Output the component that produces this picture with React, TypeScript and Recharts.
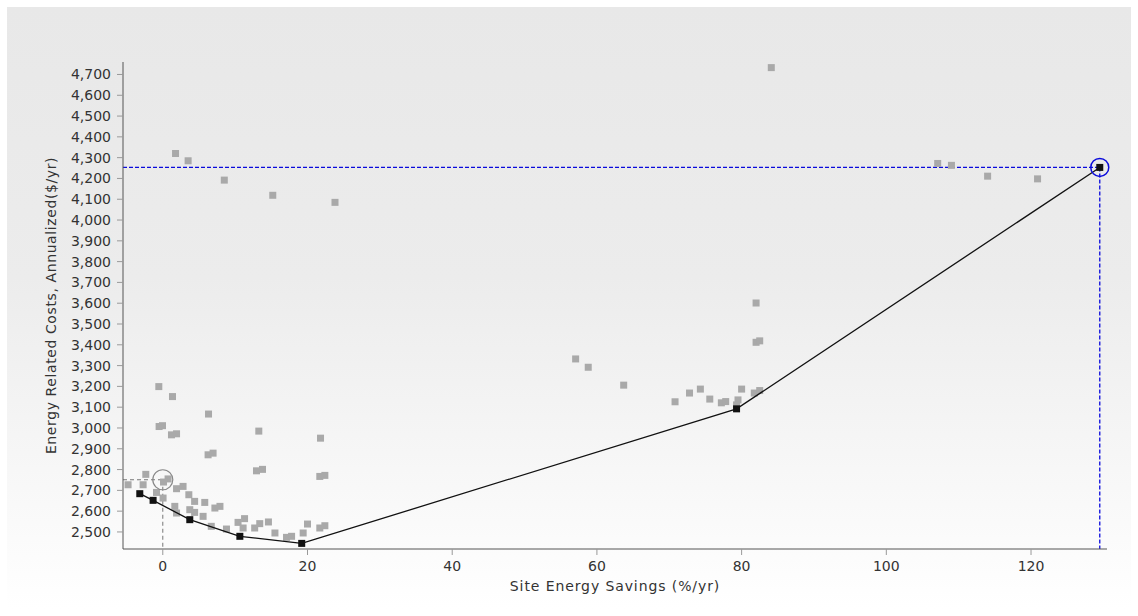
import { ScatterChart, Scatter, XAxis, YAxis, ReferenceLine, ReferenceDot } from 'recharts';

// all design options evaluated (gray squares)
const designPoints = [
  { x: -0.55, y: 3199 }, { x: 1.34, y: 3151 }, { x: 6.32, y: 3067 }, { x: -0.51, y: 3007 },
  { x: -0.04, y: 3011 }, { x: 1.2, y: 2967 }, { x: 1.9, y: 2972 }, { x: 13.27, y: 2985 },
  { x: 21.8, y: 2951 }, { x: 6.26, y: 2871 }, { x: 6.95, y: 2879 }, { x: 12.95, y: 2794 },
  { x: 13.78, y: 2801 }, { x: 21.7, y: 2767 }, { x: 22.4, y: 2772 }, { x: -2.35, y: 2777 },
  { x: -4.8, y: 2727 }, { x: -2.72, y: 2727 }, { x: 0.73, y: 2755 }, { x: 0.1, y: 2740 },
  { x: 1.9, y: 2708 }, { x: 2.8, y: 2719 }, { x: -0.87, y: 2690 }, { x: 0.04, y: 2663 },
  { x: 3.6, y: 2679 }, { x: 4.4, y: 2647 }, { x: 5.8, y: 2642 }, { x: 7.2, y: 2615 },
  { x: 7.9, y: 2623 }, { x: 1.66, y: 2623 }, { x: 3.73, y: 2607 }, { x: 4.4, y: 2594 },
  { x: 5.57, y: 2575 }, { x: 1.9, y: 2591 }, { x: 6.7, y: 2527 }, { x: 8.8, y: 2514 },
  { x: 10.4, y: 2546 }, { x: 11.3, y: 2564 }, { x: 11.1, y: 2519 }, { x: 12.7, y: 2519 },
  { x: 13.4, y: 2540 }, { x: 14.6, y: 2548 }, { x: 15.5, y: 2495 }, { x: 17.1, y: 2474 },
  { x: 17.8, y: 2479 }, { x: 19.4, y: 2495 }, { x: 20.0, y: 2538 }, { x: 21.7, y: 2519 },
  { x: 22.4, y: 2530 },
  { x: 1.76, y: 4320 }, { x: 3.5, y: 4285 }, { x: 8.5, y: 4192 }, { x: 15.2, y: 4119 },
  { x: 23.8, y: 4085 }, { x: 84.1, y: 4733 }, { x: 107.1, y: 4272 }, { x: 109.0, y: 4263 },
  { x: 114.0, y: 4211 }, { x: 120.9, y: 4198 },
  { x: 57.06, y: 3332 }, { x: 58.8, y: 3292 }, { x: 63.7, y: 3206 }, { x: 70.8, y: 3126 },
  { x: 72.8, y: 3168 }, { x: 74.3, y: 3187 }, { x: 75.6, y: 3139 }, { x: 77.2, y: 3121 },
  { x: 77.8, y: 3127 }, { x: 79.5, y: 3135 }, { x: 80.0, y: 3187 }, { x: 79.3, y: 3111 },
  { x: 81.75, y: 3168 }, { x: 82.5, y: 3180 }, { x: 82.0, y: 3412 }, { x: 82.5, y: 3419 },
  { x: 82.0, y: 3601 },
];

// least-cost curve (black squares joined by a line)
const paretoPoints = [
  { x: -3.18, y: 2684 },
  { x: -1.34, y: 2652 },
  { x: 3.73, y: 2559 },
  { x: 10.65, y: 2479 },
  { x: 19.2, y: 2445 },
  { x: 79.3, y: 3092 },
  { x: 129.5, y: 4253 },
];

const currentDesign = { x: 0, y: 2751 };
const selectedDesign = { x: 129.5, y: 4253 };

const xTicks = [0, 20, 40, 60, 80, 100, 120];
const yTicks = [2500, 2600, 2700, 2800, 2900, 3000, 3100, 3200, 3300, 3400, 3500, 3600, 3700, 3800, 3900, 4000, 4100, 4200, 4300, 4400, 4500, 4600, 4700];
const xDomain = [-5.5, 130.5];
const yDomain = [2418, 4760];

const FONT = "'DejaVu Sans', Verdana, sans-serif";
const BLUE = '#0a0adc';

function Square(props: any) {
  const { cx, cy, fill, size } = props;
  if (cx == null || cy == null) return null;
  return <rect x={cx - size / 2} y={cy - size / 2} width={size} height={size} fill={fill} />;
}

const fmt = (v: number) => v.toLocaleString('en-US');

export default function App() {
  return (
    <div
      style={{
        position: 'fixed',
        left: 0,
        top: 0,
        width: 1138,
        height: 616,
        background: '#ffffff',
      }}
    >
      <div
        style={{
          position: 'absolute',
          left: 7,
          top: 7,
          width: 1124,
          height: 602,
          background: 'linear-gradient(to bottom, #e8e8e8 0%, #ececec 45%, #ffffff 100%)',
        }}
      />
      <div style={{ position: 'absolute', left: 0, top: 0 }}>
        <ScatterChart width={1138} height={616} margin={{ top: 62, right: 31, bottom: 0, left: 0 }}>
          <XAxis
            type="number"
            dataKey="x"
            domain={xDomain}
            ticks={xTicks}
            interval={0}
            allowDataOverflow
            height={67}
            stroke="#555"
            tickSize={6}
            tickMargin={6}
            tickLine={{ stroke: '#999' }}
            tick={{ fill: '#333', fontSize: 14, fontFamily: FONT }}
            label={{
              content: (p: any) => {
                const vb = p.viewBox;
                return (
                  <text
                    x={vb.x + vb.width / 2}
                    y={vb.y + 38}
                    textAnchor="middle"
                    dominantBaseline="middle"
                    fill="#333"
                    fontSize={14}
                    letterSpacing={0.9}
                    fontFamily={FONT}
                  >
                    Site Energy Savings (%/yr)
                  </text>
                );
              },
            }}
          />
          <YAxis
            type="number"
            dataKey="y"
            domain={yDomain}
            ticks={yTicks}
            interval={0}
            allowDataOverflow
            width={123}
            stroke="#555"
            tickSize={6}
            tickMargin={6}
            tickLine={{ stroke: '#999' }}
            tickFormatter={fmt}
            tick={{ fill: '#333', fontSize: 14, fontFamily: FONT }}
            label={{
              content: (p: any) => {
                const vb = p.viewBox;
                const cx = 52;
                const cy = vb.y + vb.height / 2;
                return (
                  <text
                    x={cx}
                    y={cy}
                    textAnchor="middle"
                    dominantBaseline="middle"
                    fill="#333"
                    fontSize={14}
                    letterSpacing={0.6}
                    fontFamily={FONT}
                    transform={`rotate(-90 ${cx} ${cy})`}
                  >
                    Energy Related Costs, Annualized($/yr)
                  </text>
                );
              },
            }}
          />
          <Scatter
            name="Designs"
            data={designPoints}
            fill="#a9a9a9"
            shape={(p: any) => <Square {...p} size={7} fill="#a9a9a9" />}
            isAnimationActive={false}
          />
          <ReferenceLine
            segment={[{ x: xDomain[0], y: currentDesign.y }, { x: currentDesign.x, y: currentDesign.y }]}
            stroke="#777"
            strokeDasharray="4 3"
            ifOverflow="visible"
          />
          <ReferenceLine
            segment={[{ x: currentDesign.x, y: currentDesign.y }, { x: currentDesign.x, y: yDomain[0] }]}
            stroke="#777"
            strokeDasharray="4 3"
            ifOverflow="visible"
          />
          <ReferenceLine
            segment={[{ x: xDomain[0], y: selectedDesign.y }, { x: selectedDesign.x, y: selectedDesign.y }]}
            stroke={BLUE}
            strokeWidth={1.3}
            strokeDasharray="4 2"
            ifOverflow="visible"
          />
          <ReferenceLine
            segment={[{ x: selectedDesign.x, y: selectedDesign.y }, { x: selectedDesign.x, y: yDomain[0] }]}
            stroke={BLUE}
            strokeWidth={1.3}
            strokeDasharray="4 2"
            ifOverflow="visible"
          />
          <Scatter
            name="Least cost curve"
            data={paretoPoints}
            fill="#111"
            line={{ stroke: '#111', strokeWidth: 1.3 }}
            shape={(p: any) => <Square {...p} size={7} fill="#111" />}
            isAnimationActive={false}
          />
          <ReferenceDot
            x={currentDesign.x}
            y={currentDesign.y}
            r={10}
            fill="none"
            stroke="#888"
            strokeWidth={1.2}
            ifOverflow="visible"
          />
          <ReferenceDot
            x={selectedDesign.x}
            y={selectedDesign.y}
            r={9}
            fill="none"
            stroke={BLUE}
            strokeWidth={1.5}
            ifOverflow="visible"
          />
        </ScatterChart>
      </div>
    </div>
  );
}
